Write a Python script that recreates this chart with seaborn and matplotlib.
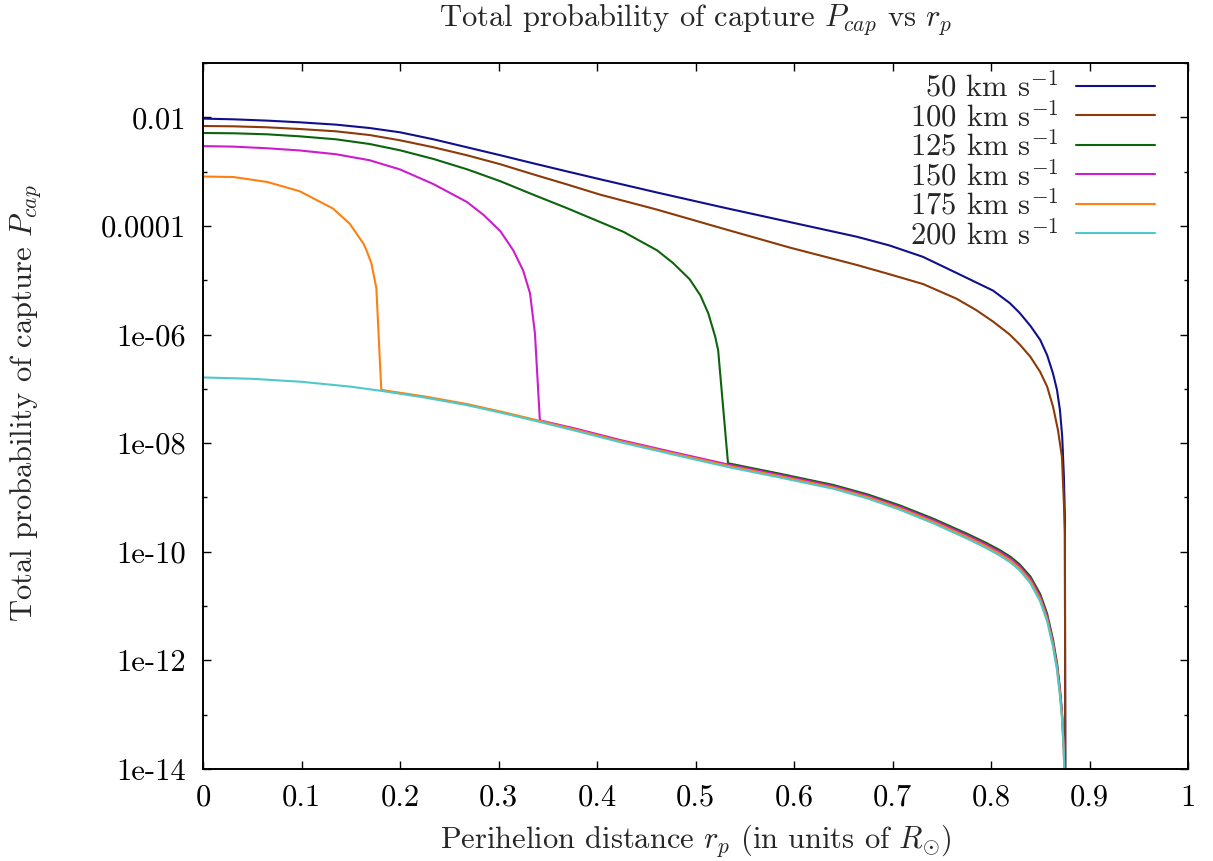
import numpy as np
import pandas as pd
import matplotlib
matplotlib.use("Agg")
import matplotlib.pyplot as plt
from matplotlib.ticker import FixedLocator, NullFormatter
import seaborn as sns

# ---------------- data (y stored as log10 of P_cap) ----------------
r_50 = [0, 0.031, 0.065, 0.098, 0.135, 0.169, 0.2, 0.234, 0.268, 0.302, 0.335, 0.369, 0.403,
        0.461, 0.528, 0.596, 0.664, 0.697, 0.731, 0.765, 0.802, 0.819, 0.829, 0.84, 0.85,
        0.857, 0.863, 0.867, 0.87, 0.8723, 0.874, 0.875, 0.8755]
logp_50 = [-2.024, -2.037, -2.061, -2.092, -2.135, -2.197, -2.276, -2.405, -2.552, -2.699,
           -2.846, -2.994, -3.140, -3.385, -3.66, -3.93, -4.20, -4.36, -4.57, -4.866,
           -5.19, -5.42, -5.60, -5.84, -6.10, -6.38, -6.72, -7.02, -7.39, -7.884,
           -8.62, -9.36, -15.0]

r_100 = [0, 0.031, 0.065, 0.098, 0.135, 0.169, 0.2, 0.234, 0.268, 0.302, 0.335, 0.369, 0.403,
         0.461, 0.528, 0.596, 0.664, 0.697, 0.731, 0.765, 0.785, 0.802, 0.819, 0.829, 0.84,
         0.85, 0.857, 0.863, 0.868, 0.872, 0.874, 0.875, 0.8755]
logp_100 = [-2.160, -2.166, -2.184, -2.215, -2.258, -2.326, -2.423, -2.552, -2.699, -2.865,
            -3.049, -3.233, -3.423, -3.70, -4.05, -4.40, -4.72, -4.89, -5.07, -5.34, -5.55,
            -5.76, -6.00, -6.18, -6.41, -6.69, -6.96, -7.33, -7.76, -8.25, -9.11, -9.66, -15.0]

r_125 = [0, 0.031, 0.065, 0.098, 0.135, 0.169, 0.2, 0.234, 0.268, 0.302, 0.335, 0.369, 0.403,
         0.427, 0.461, 0.477, 0.494, 0.505, 0.513, 0.520, 0.523, 0.533, 0.585, 0.64, 0.675,
         0.708, 0.742, 0.776, 0.795, 0.809, 0.82, 0.829, 0.84, 0.85, 0.857, 0.863, 0.867,
         0.870, 0.872, 0.874, 0.875]
logp_125 = [-2.289, -2.294, -2.313, -2.350, -2.405, -2.491, -2.607, -2.767, -2.957, -3.178,
            -3.423, -3.669, -3.927, -4.11, -4.45, -4.68, -4.98, -5.28, -5.61, -6.04, -6.29,
            -8.37, -8.56, -8.77, -8.945, -9.15, -9.395, -9.67, -9.835, -9.97, -10.095,
            -10.23, -10.455, -10.78, -11.14, -11.62, -12.045, -12.52, -12.93, -13.6, -15.0]

r_150 = [0, 0.031, 0.065, 0.098, 0.135, 0.169, 0.2, 0.234, 0.268, 0.285, 0.302, 0.315, 0.325,
         0.332, 0.337, 0.342, 0.38, 0.423, 0.48, 0.533, 0.585, 0.64, 0.675, 0.708, 0.742,
         0.776, 0.795, 0.809, 0.82, 0.829, 0.84, 0.85, 0.857, 0.863, 0.867, 0.870, 0.872,
         0.874, 0.875]
logp_150 = [-2.53, -2.54, -2.57, -2.61, -2.68, -2.79, -2.96, -3.23, -3.56, -3.80, -4.10,
            -4.45, -4.82, -5.24, -5.98, -7.58, -7.74, -7.94, -8.177, -8.393, -8.583, -8.793,
            -8.97, -9.177, -9.423, -9.70, -9.867, -10.003, -10.13, -10.267, -10.497, -10.827,
            -11.187, -11.667, -12.09, -12.563, -12.97, -13.633, -15.0]

r_175 = [0, 0.031, 0.065, 0.098, 0.132, 0.149, 0.163, 0.166, 0.171, 0.176, 0.181, 0.225,
         0.268, 0.305, 0.342, 0.38, 0.423, 0.48, 0.533, 0.585, 0.64, 0.675, 0.708, 0.742,
         0.776, 0.795, 0.809, 0.82, 0.829, 0.84, 0.85, 0.857, 0.863, 0.867, 0.870, 0.872,
         0.874, 0.875]
logp_175 = [-3.09, -3.10, -3.19, -3.36, -3.68, -3.96, -4.33, -4.45, -4.69, -5.15, -7.02,
            -7.14, -7.28, -7.43, -7.59, -7.76, -7.96, -8.198, -8.417, -8.607, -8.817, -8.995,
            -9.203, -9.452, -9.73, -9.898, -10.037, -10.165, -10.303, -10.538, -10.873,
            -11.233, -11.713, -12.135, -12.607, -13.01, -13.667, -15.0]

r_200 = [0, 0.05, 0.1, 0.15, 0.182, 0.225, 0.268, 0.305, 0.342, 0.38, 0.423, 0.48, 0.533,
         0.585, 0.64, 0.675, 0.708, 0.742, 0.776, 0.795, 0.809, 0.82, 0.829, 0.84, 0.85,
         0.857, 0.863, 0.867, 0.870, 0.872, 0.874, 0.875]
logp_200 = [-6.79, -6.815, -6.87, -6.96, -7.04, -7.16, -7.30, -7.45, -7.61, -7.78, -7.98,
            -8.22, -8.44, -8.63, -8.84, -9.02, -9.23, -9.48, -9.76, -9.93, -10.07, -10.20,
            -10.34, -10.58, -10.92, -11.28, -11.76, -12.18, -12.65, -13.05, -13.7, -15.0]

speeds = ["50", "100", "125", "150", "175", "200"]
series_r = [r_50, r_100, r_125, r_150, r_175, r_200]
series_logp = [logp_50, logp_100, logp_125, logp_150, logp_175, logp_200]
colors = ["#10108c", "#8c3a08", "#0c640c", "#cc1ccc", "#ff8010", "#50c8c8"]

x_ticks = [0, 0.1, 0.2, 0.3, 0.4, 0.5, 0.6, 0.7, 0.8, 0.9, 1.0]
x_ticklabels = ["0", "0.1", "0.2", "0.3", "0.4", "0.5", "0.6", "0.7", "0.8", "0.9", "1"]
y_ticks = [1e-2, 1e-4, 1e-6, 1e-8, 1e-10, 1e-12, 1e-14]
y_ticklabels = ["0.01", "0.0001", "1e-06", "1e-08", "1e-10", "1e-12", "1e-14"]
y_minor = [1e-1, 1e-3, 1e-5, 1e-7, 1e-9, 1e-11, 1e-13]

# ---------------- style ----------------
sns.set_theme(style="ticks")
plt.rcParams.update({
    "font.family": "serif",
    "font.serif": ["cmr10", "DejaVu Serif"],
    "mathtext.fontset": "cm",
    "axes.formatter.use_mathtext": True,
    "axes.unicode_minus": False,
    "axes.edgecolor": "black",
    "axes.linewidth": 1.4,
})
FS = 22

fig = plt.figure(figsize=(12.13, 8.61), dpi=100)
ax = fig.add_axes([203 / 1213, 1 - 769 / 861, (1188 - 203) / 1213, (769 - 63) / 861])

for spd, r, lp, c in zip(speeds, series_r, series_logp, colors):
    df = pd.DataFrame({"r": r, "p": np.power(10.0, lp)})
    sns.lineplot(data=df, x="r", y="p", ax=ax, color=c, linewidth=1.5,
                 label=spd + r" km s$^{-1}$", estimator=None, sort=False)

ax.set_yscale("log")
ax.set_xlim(0, 1)
ax.set_ylim(1e-14, 1e-1)

ax.xaxis.set_major_locator(FixedLocator(x_ticks))
ax.set_xticklabels(x_ticklabels)
ax.yaxis.set_major_locator(FixedLocator(y_ticks))
ax.set_yticklabels(y_ticklabels)
ax.yaxis.set_minor_locator(FixedLocator(y_minor))
ax.yaxis.set_minor_formatter(NullFormatter())
ax.xaxis.set_minor_locator(FixedLocator([]))

ax.tick_params(which="both", direction="in", top=True, right=True, colors="black")
ax.tick_params(which="major", length=6, width=1.0, labelsize=FS)
ax.tick_params(which="minor", length=3, width=1.0)
ax.tick_params(axis="x", pad=11)
ax.tick_params(axis="y", pad=12)

ax.set_xlabel(r"Perihelion distance $r_p$ (in units of $R_{\odot}$)", fontsize=FS)
ax.xaxis.set_label_coords(0.5, -0.1006)
ax.xaxis.label.set_va("center")
ax.set_ylabel(r"Total probability of capture $P_{cap}$", fontsize=FS)
ax.yaxis.set_label_coords(-0.1807, 0.518)
ax.yaxis.label.set_va("center")

ax.text(0.5, 1.061, r"Total probability of capture $P_{cap}$ vs $r_p$",
        transform=ax.transAxes, ha="center", va="center", fontsize=FS)

leg = ax.legend(loc="upper right", bbox_to_anchor=(0.9665, 0.988), frameon=False,
                markerfirst=False, fontsize=FS, handlelength=2.6, handletextpad=0.55,
                labelspacing=-0.05, borderaxespad=0, borderpad=0)

fig.savefig("out.png", dpi=100)
